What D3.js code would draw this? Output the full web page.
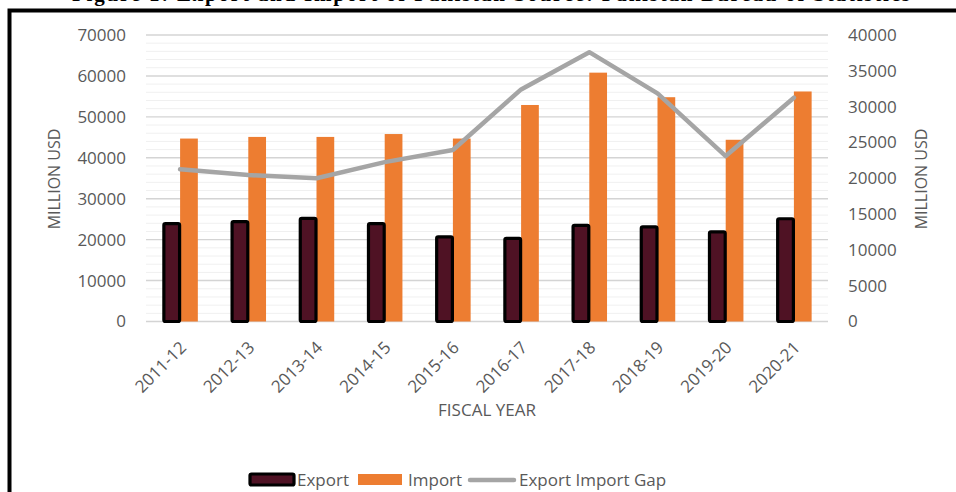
<!DOCTYPE html>
<html>
<head>
<meta charset="utf-8">
<script src="https://cdn.jsdelivr.net/npm/d3@7"></script>
<style>
	body { margin: 0; background: #fff; }
	svg { display: block; }
	text { font-family: "Open Sans", sans-serif; fill: #595959; }
</style>
</head>
<body>
<div id="chart"></div>
<script>
// Values (million USD)
const years = ["2011-12", "2012-13", "2013-14", "2014-15", "2015-16", "2016-17", "2017-18", "2018-19", "2019-20", "2020-21"]
const exportValues = [23900, 24400, 25200, 23900, 20700, 20300, 23500, 23100, 21900, 25100]
const importValues = [44700, 45100, 45100, 45800, 44700, 52900, 60800, 54800, 44400, 56200]
const gapValues = [21250, 20450, 20000, 22250, 23950, 32400, 37600, 31850, 23100, 31250]
const leftTicks = [0, 10000, 20000, 30000, 40000, 50000, 60000, 70000]
const rightTicks = [0, 5000, 10000, 15000, 20000, 25000, 30000, 35000, 40000]

const width = 956
const height = 492
const plot = { left: 146, right: 828, top: 35, bottom: 321.5 }

const svg = d3.select("#chart")
	.append("svg")
	.attr("width", width)
	.attr("height", height)

// title of the figure, mostly cut off above the frame (as in the source scan)
svg.append("text")
	.attr("x", 72)
	.attr("y", 1)
	.attr("textLength", 838)
	.attr("lengthAdjust", "spacing")
	.style("font-family", "'Liberation Serif', serif")
	.style("font-weight", "bold")
	.style("font-size", "21px")
	.style("fill", "#000")
	.text("Figure 1: Export and Import of Pakistan Source: Pakistan Bureau of Statistics")

// frame
svg.append("rect")
	.attr("x", 9.5)
	.attr("y", 10.5)
	.attr("width", 980)
	.attr("height", 520)
	.attr("fill", "none")
	.attr("stroke", "#000")
	.attr("stroke-width", 4)

const x = d3.scaleBand().domain(years).range([plot.left, plot.right])
const yLeft = d3.scaleLinear().domain([0, 70000]).range([plot.bottom, plot.top])
const yRight = d3.scaleLinear().domain([0, 40000]).range([plot.bottom, plot.top])

// gridlines: minor every 2000, major every 10000
const grid = svg.append("g").attr("class", "grid")
grid.selectAll("line.minor")
	.data(d3.range(0, 70001, 2000).filter((v) => v % 10000 !== 0))
	.join("line")
	.attr("class", "minor")
	.attr("x1", plot.left)
	.attr("x2", plot.right)
	.attr("y1", (d) => yLeft(d))
	.attr("y2", (d) => yLeft(d))
	.attr("stroke", "#f0f0f0")
	.attr("stroke-width", 1)
grid.selectAll("line.major")
	.data(leftTicks)
	.join("line")
	.attr("class", "major")
	.attr("x1", plot.left)
	.attr("x2", plot.right)
	.attr("y1", (d) => yLeft(d))
	.attr("y2", (d) => yLeft(d))
	.attr("stroke", "#d4d4d4")
	.attr("stroke-width", 1.4)

// axes
const leftAxis = svg.append("g")
	.attr("transform", `translate(${plot.left - 20},0)`)
	.call(d3.axisLeft(yLeft).tickValues(leftTicks).tickSize(0).tickPadding(0).tickFormat(d3.format("d")))
const rightAxis = svg.append("g")
	.attr("transform", `translate(${plot.right + 20},0)`)
	.call(d3.axisRight(yRight).tickValues(rightTicks).tickSize(0).tickPadding(0).tickFormat(d3.format("d")))
const bottomAxis = svg.append("g")
	.attr("transform", `translate(0,${plot.bottom})`)
	.call(d3.axisBottom(x).tickSize(0).tickPadding(0))

for (const ax of [leftAxis, rightAxis, bottomAxis]) {
	ax.select(".domain").remove()
	ax.selectAll("text")
		.style("font-family", "'Open Sans', sans-serif")
		.style("font-size", "17px")
		.style("fill", "#595959")
}

bottomAxis.selectAll("text")
	.attr("text-anchor", "end")
	.attr("dy", "0.35em")
	.attr("y", 0)
	.attr("transform", "translate(3,23) rotate(-45)")

// bars: import behind, export on top
const bw = x.bandwidth()
const barW = bw * 0.26
const center = (d) => x(d) + bw / 2

svg.append("g")
	.selectAll("rect")
	.data(years)
	.join("rect")
	.attr("x", (d) => center(d))
	.attr("y", (d, i) => yLeft(importValues[i]))
	.attr("width", barW)
	.attr("height", (d, i) => yLeft(0) - yLeft(importValues[i]))
	.attr("fill", "#ed7d31")

svg.append("g")
	.selectAll("rect")
	.data(years)
	.join("rect")
	.attr("x", (d) => center(d) - barW + 1.5)
	.attr("y", (d, i) => yLeft(exportValues[i]))
	.attr("width", barW - 2)
	.attr("height", (d, i) => yLeft(0) - yLeft(exportValues[i]))
	.attr("rx", 1.5)
	.attr("fill", "#4f1224")
	.attr("stroke", "#000")
	.attr("stroke-width", 3.2)

// export-import gap line on the secondary axis
const line = d3.line()
	.x((d, i) => center(years[i]))
	.y((d) => yRight(d))

svg.append("path")
	.datum(gapValues)
	.attr("d", line)
	.attr("fill", "none")
	.attr("stroke", "#a5a5a5")
	.attr("stroke-width", 4.5)
	.attr("stroke-linejoin", "round")
	.attr("stroke-linecap", "round")

// axis titles
svg.append("text")
	.attr("transform", "translate(60,179) rotate(-90)")
	.attr("text-anchor", "middle")
	.style("font-size", "16px")
	.text("MILLION USD")
svg.append("text")
	.attr("transform", "translate(927,179) rotate(-90)")
	.attr("text-anchor", "middle")
	.style("font-size", "16px")
	.text("MILLION USD")
svg.append("text")
	.attr("x", 487)
	.attr("y", 416)
	.attr("text-anchor", "middle")
	.style("font-size", "17px")
	.text("FISCAL YEAR")

// legend
const legend = svg.append("g").attr("class", "legend")
legend.append("rect")
	.attr("x", 250)
	.attr("y", 474)
	.attr("width", 44)
	.attr("height", 11)
	.attr("rx", 1.5)
	.attr("fill", "#4f1224")
	.attr("stroke", "#000")
	.attr("stroke-width", 3.2)
legend.append("text").attr("x", 297).attr("y", 486).style("font-size", "17px").text("Export")
legend.append("rect")
	.attr("x", 358)
	.attr("y", 474)
	.attr("width", 44)
	.attr("height", 11)
	.attr("fill", "#ed7d31")
legend.append("text").attr("x", 408).attr("y", 486).style("font-size", "17px").text("Import")
legend.append("line")
	.attr("x1", 470)
	.attr("x2", 514)
	.attr("y1", 480)
	.attr("y2", 480)
	.attr("stroke", "#a5a5a5")
	.attr("stroke-width", 4.5)
	.attr("stroke-linecap", "round")
legend.append("text").attr("x", 519).attr("y", 486).style("font-size", "17px").text("Export Import Gap")
</script>
</body>
</html>
